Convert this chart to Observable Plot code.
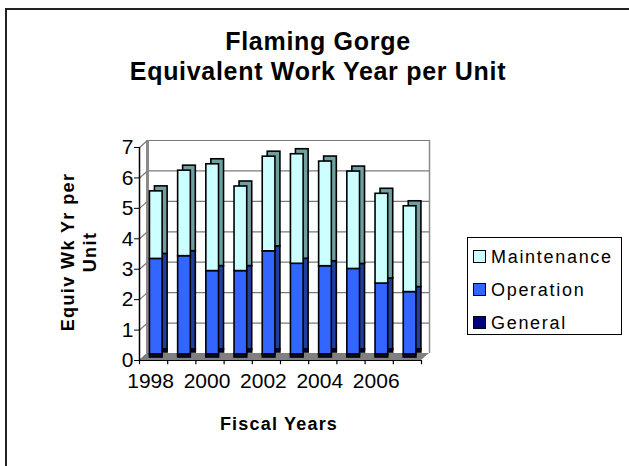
<!DOCTYPE html>
<html>
<head>
<meta charset="utf-8">
<script src="https://cdn.jsdelivr.net/npm/d3@7"></script>
<script src="https://cdn.jsdelivr.net/npm/@observablehq/plot@0.6"></script>
<style>
  html, body { margin: 0; padding: 0; background: #fff; }
  #wrap { position: relative; width: 629px; height: 466px; font-family: "Liberation Sans", Arial, sans-serif; color: #000; overflow: hidden; }
  #chart { position: absolute; left: 0; top: 0; }
  .abs { position: absolute; white-space: nowrap; }
  .title { left: 0; width: 636px; top: 26px; text-align: center; font-weight: bold; font-size: 25px; line-height: 30px; letter-spacing: 0.7px; }
  .xtitle { left: 179px; width: 200px; top: 414px; text-align: center; font-weight: bold; font-size: 18px; line-height: 20px; letter-spacing: 1.2px; }
  .ytitle { font-weight: bold; font-size: 18px; line-height: 20px; letter-spacing: 1.4px; transform: translate(-50%, -50%) rotate(-90deg); }
  .legend { left: 467px; top: 237px; width: 155px; height: 98px; border: 1px solid #000; box-sizing: border-box; }
  .sw { position: absolute; width: 11px; height: 11px; border: 1px solid #000; }
  .lt { position: absolute; font-size: 18px; line-height: 20px; letter-spacing: 1.7px; }
  .frame-top { left: 5px; top: 8px; width: 624px; height: 2px; background: #222; }
  .frame-left { left: 5px; top: 8px; width: 2px; height: 458px; background: #222; }
</style>
</head>
<body>
<div id="wrap">
  <div id="chart"></div>
  <div class="abs frame-top"></div>
  <div class="abs frame-left"></div>
  <div class="abs title">Flaming Gorge<br>Equivalent Work Year per Unit</div>
  <div class="abs ytitle" style="left:68px; top:252px;">Equiv Wk Yr per</div>
  <div class="abs ytitle" style="left:90px; top:252px;">Unit</div>
  <div class="abs xtitle">Fiscal Years</div>
  <div class="abs legend" id="legend"></div>
</div>
<script>
// ---- data ----
const years = [1998, 1999, 2000, 2001, 2002, 2003, 2004, 2005, 2006, 2007];
const general =     [0.10, 0.10, 0.10, 0.10, 0.10, 0.10, 0.10, 0.10, 0.10, 0.10];
const operation =   [3.14, 3.23, 2.74, 2.74, 3.39, 2.98, 2.90, 2.81, 2.33, 2.05];
const maintenance = [2.22, 2.81, 3.51, 2.78, 3.11, 3.60, 3.44, 3.20, 2.95, 2.82];
const seriesNames = ["General", "Operation", "Maintenance"];
const seriesValues = [general, operation, maintenance];
const frontColors = ["#000080", "#3366FF", "#CCFFFF"];
const sideColors = ["#00003a", "#1f3f9f", "#6f9f9f"];
const yTicks = [0, 1, 2, 3, 4, 5, 6, 7];
const xTickLabels = [1998, 2000, 2002, 2004, 2006];
const legendOrder = ["Maintenance", "Operation", "General"];

// ---- layout ----
const W = 629, H = 466, mL = 139, mR = 208, mT = 147, mB = 106;
const X0 = years[0] - 0.5, X1 = years[years.length - 1] + 0.5;
const yMax = yTicks[yTicks.length - 1];
const pxX = (W - mL - mR) / (X1 - X0);
const pxY = (H - mT - mB) / yMax;
const depthX = 8 / pxX, depthY = 7 / pxY;

// stacked segments
const segs = [];
years.forEach((yr, i) => {
  let cum = 0;
  seriesNames.forEach((s, k) => {
    const v = seriesValues[k][i];
    segs.push({year: yr, series: s, k, y1: cum, y2: cum + v});
    cum += v;
  });
});

const floorPts = [
  {x: X0, y1: 0, y2: 0},
  {x: X0 + depthX, y1: 0, y2: depthY},
  {x: X1, y1: 0, y2: depthY},
  {x: X1 + depthX, y1: depthY, y2: depthY}
];
const boundaries = years.map(y => y - 0.5).concat([X1]);

const barX1 = d => d.year - 0.13, barX2 = d => d.year + 0.32;

const marks = [
  Plot.areaY(floorPts, {x: "x", y1: "y1", y2: "y2", fill: "#808080"}),
  Plot.ruleY(yTicks.filter(v => v > 0), {y: v => v + depthY, x1: () => X0 + depthX, x2: () => X1 + depthX, stroke: "#7a7a7a", strokeWidth: 1.2}),
  Plot.ruleX([X0 + depthX], {y1: () => depthY, y2: () => yMax + depthY, stroke: "#8a8a8a", strokeWidth: 3}),
  Plot.ruleX([X1 + depthX], {y1: () => depthY, y2: () => yMax + depthY, stroke: "#8a8a8a", strokeWidth: 1.5}),
  Plot.link(yTicks, {x1: () => X0, y1: v => v, x2: () => X0 + depthX, y2: v => v + depthY, stroke: "#7a7a7a", strokeWidth: 1.2}),
  Plot.ruleX([X0], {y1: () => 0, y2: () => yMax, stroke: "#000", strokeWidth: 1.5}),
  Plot.ruleY([0], {x1: () => X0, x2: () => X1, stroke: "#000", strokeWidth: 1.2}),
  Plot.ruleX(boundaries, {y1: () => 0, y2: () => -0.14, stroke: "#000", strokeWidth: 1.2})
];
seriesNames.forEach((s, k) => {
  marks.push(Plot.rect(segs.filter(d => d.k === k), {x1: barX1, x2: barX2, y1: "y1", y2: "y2", dx: 5, dy: -8, fill: sideColors[k], stroke: "#000", strokeWidth: 1.6}));
});
seriesNames.forEach((s, k) => {
  marks.push(Plot.rect(segs.filter(d => d.k === k), {x1: barX1, x2: barX2, y1: "y1", y2: "y2", dy: -3, fill: frontColors[k], stroke: "#000", strokeWidth: 1.6}));
});
marks.push(Plot.text(xTickLabels, {x: d => d, y: () => 0, text: d => String(d), dy: 21, dx: -3, fontSize: 21, textAnchor: "middle", fill: "#000"}));

const chart = Plot.plot({
  width: W, height: H,
  marginLeft: mL, marginRight: mR, marginTop: mT, marginBottom: mB,
  x: {domain: [X0, X1], axis: null},
  y: {domain: [0, yMax], ticks: yMax, tickSize: 5, tickPadding: 1, label: null},
  style: {fontSize: "21px", fontFamily: "'Liberation Sans', Arial, sans-serif", background: "transparent", color: "#000", overflow: "visible"},
  marks
});
document.getElementById("chart").appendChild(chart);

// legend
const legend = document.getElementById("legend");
const rowBaselines = [262 - 237, 295 - 237, 328 - 237];
legendOrder.forEach((name, i) => {
  const k = seriesNames.indexOf(name);
  const sw = document.createElement("div");
  sw.className = "sw";
  sw.style.left = (473 - 467 - 1) + "px";
  sw.style.top = (rowBaselines[i] - 13) + "px";
  sw.style.background = frontColors[k];
  legend.appendChild(sw);
  const t = document.createElement("div");
  t.className = "lt";
  t.style.left = (491 - 467 - 1) + "px";
  t.style.top = (rowBaselines[i] - 16.5) + "px";
  t.textContent = name;
  legend.appendChild(t);
});
</script>
</body>
</html>
